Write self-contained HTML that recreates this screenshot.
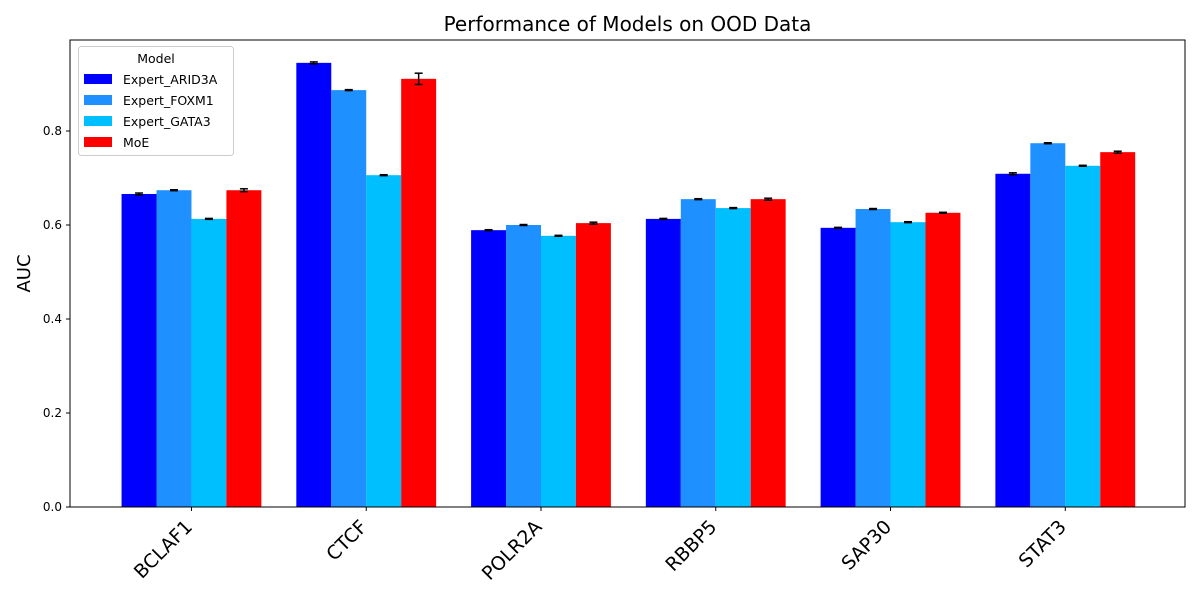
<!DOCTYPE html>
<html><head><meta charset="utf-8"><style>
body{margin:0;background:#fff;}
svg{display:block;font-family:"DejaVu Sans","Liberation Sans",sans-serif;}
</style></head><body>
<svg id="chart" width="1200" height="600"></svg>
<script>
const categories = ["BCLAF1","CTCF","POLR2A","RBBP5","SAP30","STAT3"];
const seriesNames = ["Expert_ARID3A","Expert_FOXM1","Expert_GATA3","MoE"];
const arid3a = [0.666,0.945,0.589,0.613,0.594,0.709];
const foxm1 = [0.674,0.887,0.600,0.655,0.634,0.774];
const gata3 = [0.613,0.706,0.577,0.636,0.606,0.726];
const moe = [0.674,0.911,0.604,0.655,0.626,0.755];
const errArid = [0.002,0.002,0.001,0.001,0.001,0.002];
const errFox = [0.001,0.001,0.001,0.001,0.001,0.001];
const errGata = [0.001,0.001,0.001,0.001,0.001,0.001];
const errMoe = [0.003,0.012,0.002,0.002,0.001,0.002];
const yTicks = [0.0,0.2,0.4,0.6,0.8];

const series=[arid3a,foxm1,gata3,moe];
const errs=[errArid,errFox,errGata,errMoe];
const colors=["#0000ff","#1e90ff","#00bfff","#ff0000"];
const L=70,R=1185,T=40,B=507;
const xmin=-0.695,xmax=5.685,ymax=(B-T)/470;
const xS=v=>L+(v-xmin)/(xmax-xmin)*(R-L);
const yS=v=>B-v/ymax*(B-T);
const svg=document.getElementById('chart');
const NS="http://www.w3.org/2000/svg";
function mk(t,a,p){const e=document.createElementNS(NS,t);for(const k in a)e.setAttribute(k,a[k]);(p||svg).appendChild(e);return e;}
const bw=0.2;
series.forEach((s,si)=>{
  const g=mk('g',{});
  
  
  s.forEach((v,ci)=>{
    const c=ci-0.3+si*bw;
    const x0=xS(c-bw/2),x1=xS(c+bw/2);
    const r=mk('rect',{x:x0,y:yS(v),width:x1-x0,height:yS(0)-yS(v),fill:colors[si]},g);
    
    
    const cx=xS(c),e=errs[si][ci];
    const eg=mk('g',{stroke:'#000','stroke-width':1.5},g);
    
    
    mk('line',{x1:cx,x2:cx,y1:yS(v-e),y2:yS(v+e)},eg);
    mk('line',{x1:cx-4,x2:cx+4,y1:yS(v-e),y2:yS(v-e)},eg);
    mk('line',{x1:cx-4,x2:cx+4,y1:yS(v+e),y2:yS(v+e)},eg);
  });
});
const frame=mk('rect',{x:L,y:T,width:R-L,height:B-T,fill:'none',stroke:'#000','stroke-width':1});


yTicks.forEach(t=>{
  const y=yS(t);
  mk('line',{x1:L-4,x2:L,y1:y,y2:y,stroke:'#000'});
  const tx=mk('text',{x:L-8,y:y+4,'text-anchor':'end','font-size':12});
  tx.textContent=t.toFixed(1);
  
  
});
categories.forEach((c,i)=>{
  const x=xS(i);
  mk('line',{x1:x,x2:x,y1:B,y2:B+4,stroke:'#000'});
  const ax=x+2,ay=B+21;
  const tx=mk('text',{x:ax,y:ay,'text-anchor':'end','font-size':19,transform:`rotate(-45 ${ax} ${ay})`});
  tx.textContent=c;
  
  
});
const title=mk('text',{x:(L+R)/2,y:31,'text-anchor':'middle','font-size':20});
title.textContent='Performance of Models on OOD Data';


const yl=mk('text',{x:30,y:(T+B)/2,'text-anchor':'middle','font-size':18,transform:`rotate(-90 30 ${(T+B)/2})`});
yl.textContent='AUC';


const lg=mk('g',{});


mk('rect',{x:78.5,y:46.5,width:155,height:109,rx:3,fill:'#fff','fill-opacity':0.8,stroke:'#ccc'},lg);
const lt=mk('text',{x:156,y:63,'text-anchor':'middle','font-size':12.5},lg);
lt.textContent='Model';
seriesNames.forEach((n,i)=>{
  const y=74+i*21;
  mk('rect',{x:84,y:y,width:28,height:10,fill:colors[i]},lg);
  const t=mk('text',{x:123,y:y+10,'font-size':12.5},lg);
  t.textContent=n;
  
  
});
</script>
</body></html>
